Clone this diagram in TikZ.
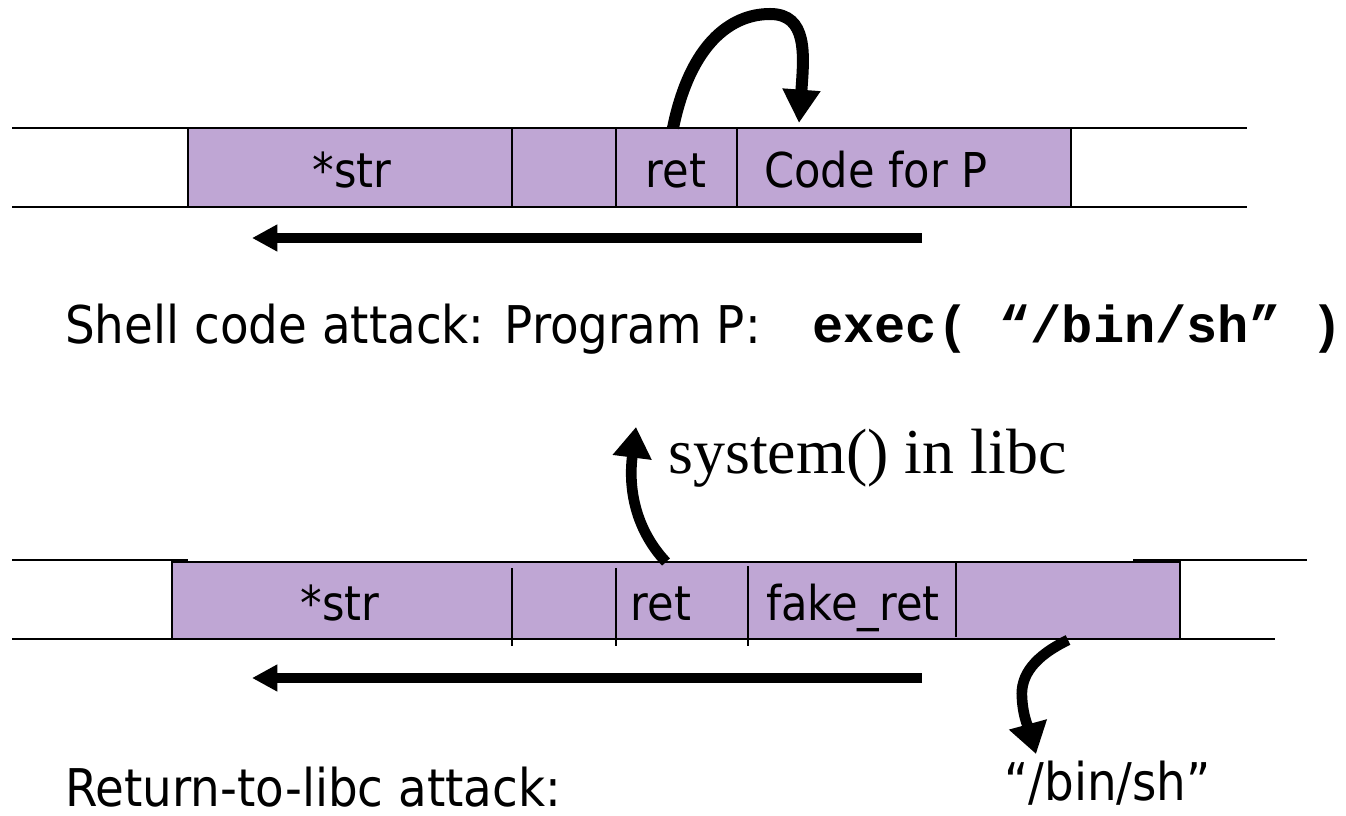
\documentclass[tikz,border=0pt]{standalone}
\usepackage{fontspec}
\setmainfont{DejaVu Sans}[FakeStretch=0.9]
\newfontfamily\serifx{Liberation Serif}
\newfontfamily\monox{Liberation Mono}
\usetikzlibrary{arrows.meta}
\definecolor{cellfill}{RGB}{191,166,212}
\tikzset{
  rail/.style={line width=2.2pt},
  cellbox/.style={draw, fill=cellfill, line width=1.4pt},
  divider/.style={line width=1.1pt},
  celltext/.style={font=\fontsize{36}{40}\selectfont, anchor=base, inner sep=0pt},
  captext/.style={font=\fontsize{39}{44}\selectfont, anchor=base west, inner sep=0pt},
  bigarrow/.style={line width=9pt, -{Triangle[length=25pt,width=27pt]}},
  midarrow/.style={line width=8pt, -{Triangle[length=23pt,width=28pt]}},
  flatarrow/.style={line width=6.8pt, -{Triangle[length=19pt,width=19pt]}}
}
\begin{document}
\begin{tikzpicture}[x=0.75pt,y=-0.75pt]
\useasboundingbox (0,0) rectangle (1346,816);
% ---------- top row ----------
\draw[cellbox] (188,128) rectangle (1071,207);
\draw[rail] (12,128) -- (1247,128);
\draw[rail] (12,207) -- (1247,207);
\draw[divider] (512,128) -- (512,207);
\draw[divider] (616,128) -- (616,207);
\draw[divider] (737,128) -- (737,207);
\node[celltext] (s1) at (352,188) {*str};
\node[celltext] (r1) at (676,188) {ret};
\node[celltext] (c1) at (876,188) {Code for P};
\coordinate (a1s) at (673,128);
\coordinate (a1t) at (770,14);
\coordinate (a1e) at (799,123);
\draw[bigarrow] (a1s) .. controls (690,45) and (730,14) .. (a1t) .. controls (808,14) and (804,55) .. (a1e);
\coordinate (h1s) at (922,238);
\coordinate (h1e) at (252,238);
\draw[flatarrow] (h1s) -- (h1e);
\node[captext] (t1) at (65,344) {Shell code attack: Program P:};
\node[font=\monox\bfseries\fontsize{39}{44}\selectfont, anchor=base west, inner sep=0pt] (t2) at (812,343) {exec( “/bin/sh” )};
% ---------- bottom row ----------
\draw[cellbox] (172,562) rectangle (1180,639);
\draw[rail] (12,560) -- (188,560);
\draw[rail] (172,562) -- (1180,562);
\draw[rail] (1133,560) -- (1307,560);
\draw[rail] (12,639) -- (1275,639);
\draw[divider] (512,568) -- (512,646);
\draw[divider] (616,568) -- (616,646);
\draw[divider] (748,566) -- (748,646);
\draw[divider] (956,562) -- (956,637);
\node[celltext] (s2) at (340,620) {*str};
\node[celltext] (r2) at (661,620) {ret};
\node[celltext] (f2) at (853,620) {fake\_ret};
\coordinate (a2s) at (666,562);
\coordinate (a2e) at (636,427);
\draw[midarrow] (a2s) .. controls (636,530) and (628,490) .. (a2e);
\node[font=\serifx\fontsize{48}{52}\selectfont, anchor=base west, inner sep=0pt] (sys) at (668,474) {system() in libc};
\coordinate (h2s) at (922,678);
\coordinate (h2e) at (252,678);
\draw[flatarrow] (h2s) -- (h2e);
\coordinate (a3s) at (1068,640);
\coordinate (a3m) at (1022,698);
\coordinate (a3e) at (1036,754);
\draw[midarrow] (a3s) .. controls (1035,656) and (1020,675) .. (a3m) .. controls (1023,718) and (1030,732) .. (a3e);
\node[captext] (bs) at (1004,800) {“/bin/sh”};
\node[captext] (t3) at (65,806) {Return-to-libc attack:};
\end{tikzpicture}
\end{document}
